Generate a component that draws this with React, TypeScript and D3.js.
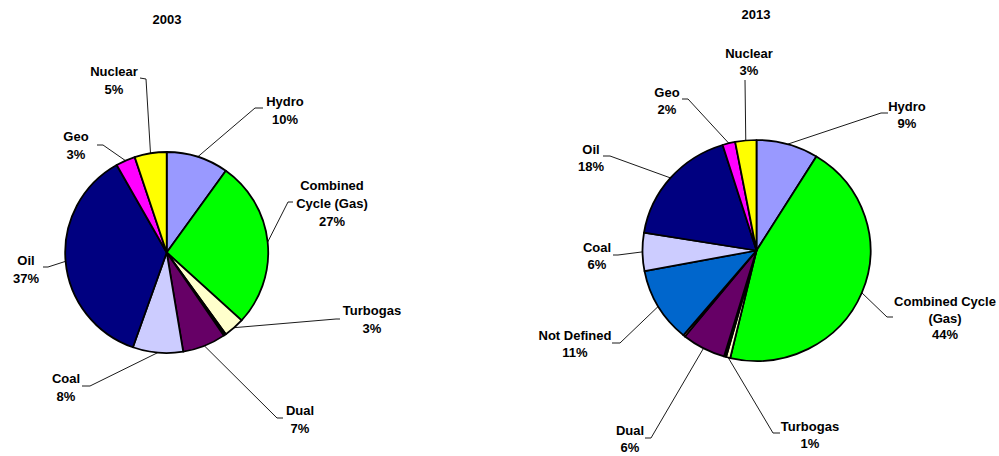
import React from "react";
import * as d3 from "d3";

// ---- data ----
const categories2003 = ["Hydro", "Combined Cycle (Gas)", "Turbogas", "Other", "Dual", "Coal", "Oil", "Geo", "Nuclear"];
const values2003 = [9.9, 26.9, 3.3, 0.4, 6.9, 8.0, 36.4, 3.1, 5.1];
const labels2003 = [["Hydro", "10%"], ["Combined", "Cycle (Gas)", "27%"], ["Turbogas", "3%"], [], ["Dual", "7%"], ["Coal", "8%"], ["Oil", "37%"], ["Geo", "3%"], ["Nuclear", "5%"]];

const categories2013 = ["Hydro", "Combined Cycle (Gas)", "Turbogas", "Other", "Dual", "Other 2", "Not Defined", "Coal", "Oil", "Geo", "Nuclear"];
const values2013 = [8.8, 44.9, 0.6, 0.3, 6.2, 0.3, 10.9, 5.6, 17.6, 1.8, 3.0];
const labels2013 = [["Hydro", "9%"], ["Combined Cycle", "(Gas)", "44%"], ["Turbogas", "1%"], [], ["Dual", "6%"], [], ["Not Defined", "11%"], ["Coal", "6%"], ["Oil", "18%"], ["Geo", "2%"], ["Nuclear", "3%"]];

const colorByCategory: Record<string, string> = {
  "Hydro": "#9999FF",
  "Combined Cycle (Gas)": "#00FF00",
  "Turbogas": "#FFFFCC",
  "Other": "#000000",
  "Dual": "#660066",
  "Other 2": "#FF8080",
  "Not Defined": "#0066CC",
  "Coal": "#CCCCFF",
  "Oil": "#000080",
  "Geo": "#FF00FF",
  "Nuclear": "#FFFF00",
};

// ---- layout (label placement) ----
// [textCenterX, firstBaselineY, attachX, attachY, elbowX, elbowY]
const layout2003: (number[] | null)[] = [
  [285, 106, 263, 108, 255, 108],
  [332, 190, 293, 202, 288, 202],
  [372, 315, 340, 319, 336, 319],
  null,
  [300, 415, 283, 418, 277, 418],
  [66, 383, 82, 386, 90, 386],
  [26, 265, 43, 267, 48, 267],
  [76, 141, 97, 145, 103, 145],
  [114, 76, 140, 78, 146, 79],
];
const layout2013: (number[] | null)[] = [
  [907, 111, 888, 113, 881, 113],
  [945, 306, 893, 317, 887, 317],
  [810, 431, 780, 433, 773, 433],
  null,
  [630, 435, 645, 438, 651, 438],
  null,
  [575, 340, 612, 343, 620, 343],
  [597, 252, 613, 255, 618, 255],
  [591, 154, 603, 156, 610, 156],
  [667, 97, 682, 99, 688, 99],
  [749, 58, 745, 80, 745, 80],
];

const FONT = "'Liberation Sans', Arial, sans-serif";
const FS = 13;

type PieProps = {
  title: string;
  titleX: number;
  titleY: number;
  cats: string[];
  vals: number[];
  labels: string[][];
  layout: (number[] | null)[];
  cx: number;
  cy: number;
  rx: number;
  ry: number;
  lineH: number;
};

function Pie(p: PieProps) {
  const data = p.cats.map((c, i) => ({ c, v: p.vals[i], i }));
  const arcs = d3.pie<any>().sort(null).value((d: any) => d.v)(data);
  const arcGen = d3.arc<any>().innerRadius(0).outerRadius(p.rx);
  const sy = p.ry / p.rx;
  return (
    <g>
      <text x={p.titleX} y={p.titleY} textAnchor="middle" fontFamily={FONT} fontWeight="bold" fontSize={FS} fill="#000">
        {p.title}
      </text>
      <g transform={`translate(${p.cx},${p.cy}) scale(1,${sy})`}>
        {arcs.map((a: any) => (
          <path key={a.data.c} d={arcGen(a) || ""} fill={colorByCategory[a.data.c]} stroke="#000" strokeWidth={1.8} strokeLinejoin="round" />
        ))}
      </g>
      {arcs.map((a: any, i: number) => {
        const L = p.layout[i];
        if (!L) return null;
        const mid = (a.startAngle + a.endAngle) / 2;
        const rimX = p.cx + p.rx * Math.sin(mid);
        const rimY = p.cy - p.ry * Math.cos(mid);
        const [tx, ty, ax, ay, ex, ey] = L;
        return (
          <g key={"l" + i}>
            <polyline points={`${rimX},${rimY} ${ex},${ey} ${ax},${ay}`} fill="none" stroke="#000" strokeWidth={0.9} />
            {p.labels[i].map((t, k) => (
              <text key={k} x={tx} y={ty + k * p.lineH} textAnchor="middle" fontFamily={FONT} fontWeight="bold" fontSize={FS} fill="#000">
                {t}
              </text>
            ))}
          </g>
        );
      })}
    </g>
  );
}

export default function App() {
  return (
    <svg width={999} height={456} style={{ position: "absolute", left: 0, top: 0, background: "#fff" }}>
      <rect x={0} y={0} width={999} height={456} fill="#fff" />
      <Pie title="2003" titleX={167} titleY={24} cats={categories2003} vals={values2003} labels={labels2003} layout={layout2003}
        cx={166.7} cy={252.5} rx={101.5} ry={100.5} lineH={18} />
      <Pie title="2013" titleX={756} titleY={19} cats={categories2013} vals={values2013} labels={labels2013} layout={layout2013}
        cx={756.5} cy={250.5} rx={114} ry={110.5} lineH={16.5} />
    </svg>
  );
}
